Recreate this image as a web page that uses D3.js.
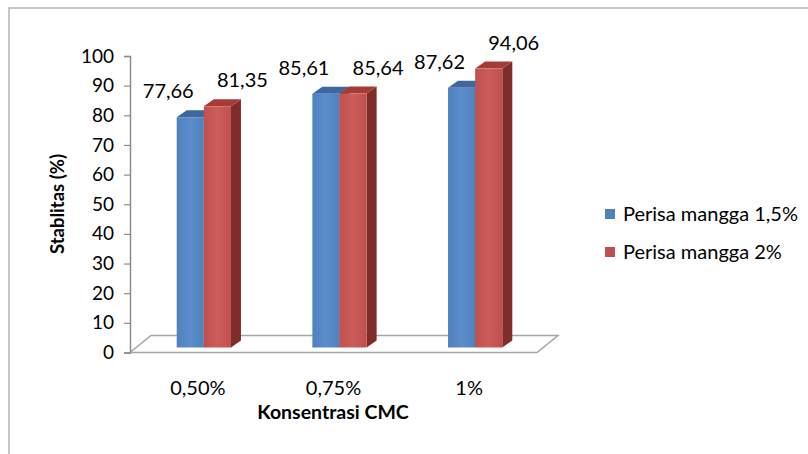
<!DOCTYPE html>
<html>
<head>
<meta charset="utf-8">
<script src="https://cdn.jsdelivr.net/npm/d3@7"></script>
<style>
  html, body { margin: 0; padding: 0; background: #fff; }
  svg { display: block; font-family: Lato, "Open Sans", sans-serif; }
</style>
</head>
<body>
<svg id="chart" width="808" height="454"></svg>
<script>
const categories = ["0,50%", "0,75%", "1%"];
const seriesNames = ["Perisa mangga 1,5%", "Perisa mangga 2%"];
const series1 = [77.66, 85.61, 87.62];
const series2 = [81.35, 85.64, 94.06];
const yTicks = [0, 10, 20, 30, 40, 50, 60, 70, 80, 90, 100];
const labelText = ["77,66", "85,61", "87,62"];
const labelText2 = ["81,35", "85,64", "94,06"];

const svg = d3.select("#chart");

// palette per series: front, top, side
const pal = [
  { front: "#4F81BD", light: "#5B8DCB", top: "#3C67A0", side: "#2F5487" },
  { front: "#C0504D", light: "#CC5D5A", top: "#A63A37", side: "#7F2C2A" }
];

const defs = svg.append("defs");
pal.forEach((p, i) => {
  const g = defs.append("linearGradient").attr("id", "g" + i)
    .attr("x1", "0%").attr("x2", "100%").attr("y1", "0%").attr("y2", "0%");
  g.append("stop").attr("offset", "0%").attr("stop-color", p.front);
  g.append("stop").attr("offset", "50%").attr("stop-color", p.light);
  g.append("stop").attr("offset", "100%").attr("stop-color", p.front);
});

// outer frame (only top/left visible in reference)
svg.append("rect").attr("x", 9).attr("y", 8).attr("width", 860).attr("height", 520)
  .attr("fill", "none").attr("stroke", "#b4b4b4").attr("stroke-width", 1.5);

const x0 = 130, x1 = 537;
const yBase = 352.5, yTop = 56;
const floorD = { dx: 21, dy: -17 };
const barOff = { dx: 6, dy: -5 };
const barD = { dx: 10, dy: -7 };

const y = d3.scaleLinear().domain([0, 100]).range([yBase, yTop]);
const xBand = d3.scaleBand().domain(categories).range([x0, x1]).paddingInner(0).paddingOuter(0);
const xInner = d3.scaleBand().domain([0, 1]).range([0, xBand.bandwidth() * 0.4]);
const groupOffset = xBand.bandwidth() * 0.3;

// floor
const floorPts = [
  [x0, yBase], [x1, yBase],
  [x1 + floorD.dx, yBase + floorD.dy], [x0 + floorD.dx, yBase + floorD.dy]
];
svg.append("polygon").attr("points", floorPts.map(p => p.join(",")).join(" "))
  .attr("fill", "none").attr("stroke", "#a6a6a6").attr("stroke-width", 1.5);

// y axis
const yAxis = d3.axisLeft(y).tickValues(yTicks).tickSize(6).tickPadding(10);
const ga = svg.append("g").attr("transform", `translate(${x0},0)`).call(yAxis);
ga.select(".domain").attr("stroke", "#8c8c8c").attr("stroke-width", 1.5);
ga.selectAll(".tick line").attr("stroke", "#8c8c8c").attr("stroke-width", 1.2);
ga.selectAll(".tick text").attr("font-size", 19).attr("fill", "#000")
  .attr("font-family", "Lato, 'Open Sans', sans-serif");

// bars
const allSeries = [series1, series2];
const allLabels = [labelText, labelText2];
const labelDx = [-22, 25];
const bars = svg.append("g");
categories.forEach((c, ci) => {
  [0, 1].forEach(si => {
    const v = allSeries[si][ci];
    const p = pal[si];
    const xl = xBand(c) + groupOffset + xInner(si) + barOff.dx;
    const w = xInner.bandwidth();
    const xr = xl + w;
    const yt = y(v) + barOff.dy;
    const yb = y(0) + barOff.dy;
    const dx = barD.dx, dy = barD.dy;
    bars.append("polygon")
      .attr("points", [[xr, yt], [xr + dx, yt + dy], [xr + dx, yb + dy], [xr, yb]].map(q => q.join(",")).join(" "))
      .attr("fill", p.side);
    bars.append("polygon")
      .attr("points", [[xl, yt], [xr, yt], [xr + dx, yt + dy], [xl + dx, yt + dy]].map(q => q.join(",")).join(" "))
      .attr("fill", p.top);
    bars.append("rect").attr("x", xl).attr("y", yt).attr("width", w).attr("height", yb - yt)
      .attr("fill", `url(#g${si})`);
    svg.append("text")
      .attr("x", xl + w / 2 + labelDx[si]).attr("y", yt - 26)
      .attr("dy", "0.35em").attr("text-anchor", "middle")
      .attr("font-size", 20).attr("fill", "#000")
      .text(allLabels[si][ci]);
  });
});

// category labels
svg.append("g").selectAll("text").data(categories).join("text")
  .attr("x", d => xBand(d) + xBand.bandwidth() / 2)
  .attr("y", 388).attr("dy", "0.35em").attr("text-anchor", "middle")
  .attr("font-size", 20).attr("fill", "#000").text(d => d);

// axis titles
svg.append("text").attr("x", 333).attr("y", 412).attr("dy", "0.35em")
  .attr("text-anchor", "middle").attr("font-size", 19.5).attr("font-weight", "bold")
  .text("Konsentrasi CMC");
svg.append("text").attr("transform", "translate(58,204) rotate(-90)")
  .attr("dy", "0.35em").attr("text-anchor", "middle").attr("font-size", 18.5).attr("font-weight", "bold")
  .text("Stablitas (%)");

// legend
const lg = svg.append("g").attr("transform", "translate(605,0)");
seriesNames.forEach((n, i) => {
  const cy = 214 + i * 38;
  lg.append("rect").attr("x", 0).attr("y", cy - 5).attr("width", 10).attr("height", 10)
    .attr("fill", pal[i].front);
  lg.append("text").attr("x", 18).attr("y", cy).attr("dy", "0.35em")
    .attr("font-size", 20).attr("fill", "#000").text(n);
});
</script>
</body>
</html>
